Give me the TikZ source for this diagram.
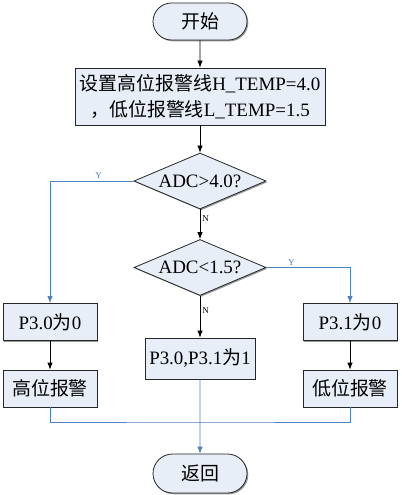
\documentclass[tikz,border=0pt]{standalone}
\usepackage{fontspec}
\setmainfont{Liberation Serif}
\newfontfamily\cjk{Noto Sans CJK SC}
\usepackage{tikz}
\usetikzlibrary{
  positioning,
  arrows.meta,
  shapes.geometric,
  shapes.misc,
  shadows
}
\tikzset{>={Latex[length=7bp,width=5.5bp]}}
\definecolor{boxfill}{HTML}{E8EEF7}
\definecolor{linkblue}{HTML}{4F81BD}
\newcommand{\zh}[1]{{\cjk #1}}

\begin{document}
\begin{tikzpicture}[x=1bp,y=-1bp,line width=0.8bp,
    base/.style={draw=black!85,fill=boxfill,inner sep=0pt,
      drop shadow={shadow xshift=1.3bp,shadow yshift=-1.3bp,fill=black!40,opacity=1},
      font=\fontsize{19}{26}\selectfont},
    term/.style={base,rounded rectangle,minimum width=94bp,minimum height=37bp},
    proc/.style={base,rectangle,minimum width=94bp,minimum height=37bp},
    test/.style={base,diamond,aspect=2.36,minimum width=132bp,minimum height=56bp},
    lbl/.style={font=\fontsize{9}{9}\selectfont,inner sep=2bp}]
  \useasboundingbox (0,0) rectangle (401,495);

  \node[term] (start) at (200,21.5) {\zh{开始}};
  \node[proc,minimum width=250bp,minimum height=57bp,align=center] (setup) at (200,96.5)
    {\zh{设置高位报警线}H\_TEMP=4.0\\\zh{，低位报警线}L\_TEMP=1.5};
  \node[test] (highq) at (200,181) {ADC>4.0?};
  \node[test] (lowq) at (200,267.5) {ADC<1.5?};
  \node[proc] (hbit) at (50,322) {P3.0\zh{为}0};
  \node[proc] (halarm) at (50,388.5) {\zh{高位报警}};
  \node[proc,minimum width=110bp,minimum height=41bp] (mid) at (200,358.5) {P3.0,P3.1\zh{为}1};
  \node[proc] (lbit) at (350,322) {P3.1\zh{为}0};
  \node[proc] (lalarm) at (350,388.5) {\zh{低位报警}};
  \node[term,minimum height=39bp] (ret) at (200,473.5) {\zh{返回}};
  \coordinate (join) at (200,422);

  \draw[->] (start) -- (setup);
  \draw[->] (setup) -- (highq);
  \draw[->] (highq) -- node[lbl,right,pos=0.3] {N} (lowq);
  \draw[->] (lowq) -- node[lbl,right,pos=0.35] {N} (mid);
  \draw[->,linkblue] (highq.west) -| node[lbl,above,pos=0.21] {Y} (hbit);
  \draw[->,linkblue] (lowq.east) -| node[lbl,above,pos=0.15] {Y} (lbit);
  \draw[->] (hbit) -- (halarm);
  \draw[->] (lbit) -- (lalarm);
  \draw[linkblue] (halarm.south) |- (join) -| (lalarm.south);
  \draw[->,linkblue] (mid) -- (ret);
\end{tikzpicture}
\end{document}
